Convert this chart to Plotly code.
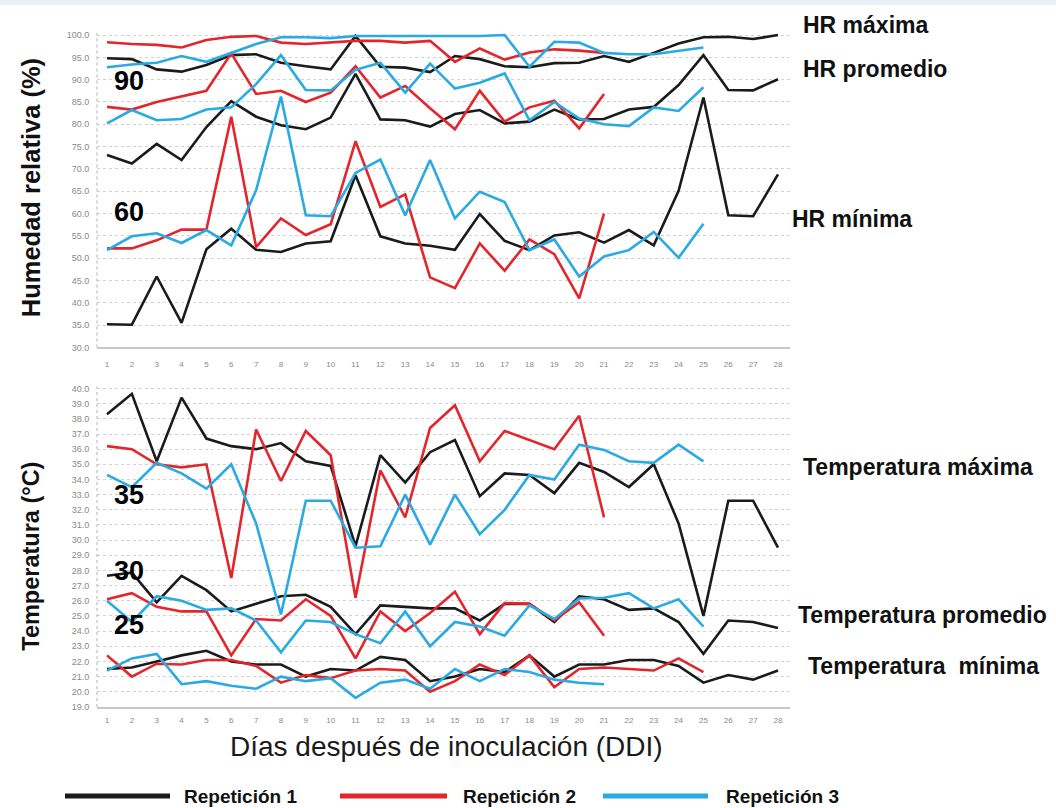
import plotly.graph_objects as go

days = list(range(1, 29))
day_labels = [str(d) for d in days]

# Humedad relativa (%)
hr_max_r1 = [94.8, 94.6, 92.3, 91.8, 93.3, 95.5, 95.7, 93.8, 93.0, 92.3, 99.8, 92.9, 92.7, 91.7,
             95.3, 94.6, 93.0, 92.8, 93.7, 93.8, 95.3, 94.0, 96.0, 98.1, 99.5, 99.6, 99.1, 100.0]
hr_max_r2 = [98.4, 98.0, 97.8, 97.2, 98.9, 99.6, 99.8, 98.3, 98.0, 98.4, 98.7, 98.7, 98.3, 98.7,
             94.0, 97.0, 94.5, 96.1, 96.8, 96.5, 96.0]
hr_max_r3 = [92.8, 93.4, 93.8, 95.3, 94.0, 96.0, 98.0, 99.5, 99.5, 99.3, 99.8, 99.8, 99.8, 99.8,
             99.8, 99.8, 100.0, 92.9, 98.5, 98.3, 96.0, 95.7, 95.7, 96.5, 97.2]

hr_mean_r1 = [73.1, 71.2, 75.6, 72.0, 79.4, 85.2, 81.7, 79.8, 78.9, 81.5, 91.3, 81.1, 80.9, 79.5,
              82.3, 83.2, 80.2, 80.6, 83.3, 81.1, 81.2, 83.3, 83.9, 88.8, 95.5, 87.7, 87.6, 90.1]
hr_mean_r2 = [83.9, 83.3, 85.0, 86.3, 87.5, 95.9, 86.8, 87.5, 85.0, 87.1, 93.0, 86.0, 88.6, 83.6,
              78.9, 87.5, 80.6, 83.8, 85.3, 79.1, 86.8]
hr_mean_r3 = [80.2, 83.2, 80.9, 81.2, 83.3, 83.8, 89.0, 95.5, 87.7, 87.6, 92.2, 93.8, 87.1, 93.6,
              88.0, 89.3, 91.4, 80.9, 85.0, 81.3, 80.0, 79.6, 83.8, 83.0, 88.3]

hr_min_r1 = [35.2, 35.1, 45.9, 35.5, 52.0, 56.6, 51.9, 51.4, 53.3, 53.8, 68.6, 54.9, 53.3, 52.8,
             51.9, 59.9, 53.9, 51.8, 55.1, 55.8, 53.5, 56.3, 52.9, 65.1, 86.0, 59.6, 59.4, 68.8]
hr_min_r2 = [52.2, 52.2, 54.0, 56.4, 56.4, 81.7, 52.5, 58.9, 55.2, 57.6, 76.2, 61.5, 64.3, 45.7,
             43.3, 53.3, 47.2, 54.2, 50.9, 41.0, 60.0]
hr_min_r3 = [51.8, 54.9, 55.6, 53.4, 56.3, 52.9, 65.2, 86.2, 59.6, 59.4, 69.1, 72.1, 59.6, 72.0,
             58.9, 64.9, 62.6, 51.8, 54.2, 45.9, 50.4, 51.8, 55.9, 50.1, 57.7]

# Temperatura (°C)
t_max_r1 = [38.3, 39.65, 35.2, 39.4, 36.7, 36.2, 36.0, 36.4, 35.2, 34.9, 29.6, 35.6, 33.8, 35.8,
            36.6, 32.9, 34.4, 34.3, 33.1, 35.1, 34.5, 33.5, 35.0, 31.1, 25.0, 32.6, 32.6, 29.5]
t_max_r2 = [36.2, 36.0, 35.0, 34.8, 35.0, 27.5, 37.3, 33.9, 37.2, 35.6, 26.2, 34.6, 31.5, 37.4,
            38.9, 35.2, 37.2, 36.6, 36.0, 38.2, 31.5]
t_max_r3 = [34.3, 33.5, 35.1, 34.4, 33.4, 35.0, 31.1, 25.1, 32.6, 32.6, 29.5, 29.6, 33.0, 29.7,
            33.0, 30.4, 32.0, 34.3, 34.0, 36.3, 35.95, 35.2, 35.1, 36.3, 35.2]

t_mean_r1 = [27.65, 27.85, 25.9, 27.65, 26.7, 25.3, 25.8, 26.3, 26.4, 25.6, 23.8, 25.7, 25.6, 25.5,
             25.5, 24.7, 25.8, 25.8, 24.6, 26.3, 26.1, 25.4, 25.5, 24.6, 22.5, 24.7, 24.6, 24.2]
t_mean_r2 = [26.1, 26.5, 25.6, 25.3, 25.3, 22.4, 24.8, 24.7, 26.1, 25.0, 22.2, 25.3, 24.0, 25.2,
             26.6, 23.8, 25.85, 25.8, 24.7, 25.9, 23.7]
t_mean_r3 = [26.0, 24.6, 26.3, 26.0, 25.4, 25.5, 24.7, 22.6, 24.7, 24.6, 23.8, 23.2, 25.3, 23.0,
             24.6, 24.3, 23.7, 25.7, 24.8, 26.15, 26.2, 26.5, 25.5, 26.1, 24.3]

t_min_r1 = [21.5, 21.6, 22.0, 22.4, 22.7, 22.0, 21.8, 21.8, 21.0, 21.5, 21.4, 22.3, 22.1, 20.7,
            21.0, 21.5, 21.3, 22.4, 21.0, 21.8, 21.8, 22.1, 22.1, 21.7, 20.6, 21.1, 20.8, 21.4]
t_min_r2 = [22.4, 21.0, 21.85, 21.8, 22.1, 22.1, 21.7, 20.6, 21.1, 20.9, 21.4, 21.5, 21.4, 20.0,
            20.7, 21.8, 21.1, 22.4, 20.3, 21.5, 21.6, 21.5, 21.4, 22.2, 21.3]
t_min_r3 = [21.4, 22.2, 22.5, 20.5, 20.7, 20.4, 20.2, 21.0, 20.7, 20.9, 19.6, 20.6, 20.8, 20.2,
            21.5, 20.7, 21.5, 21.3, 20.8, 20.6, 20.5]

rep_names = ["Repetición 1", "Repetición 2", "Repetición 3"]
rep_colors = ["#1b1b1b", "#e2262c", "#2aaae2"]

W, H = 1056, 808
VK = 1 / 0.9925  # vertical compensation
def py(p):
    return 1 - (p * VK) / H
def px(p):
    return p / W

fig = go.Figure()

top_series = [[hr_max_r1, hr_mean_r1, hr_min_r1],
              [hr_max_r2, hr_mean_r2, hr_min_r2],
              [hr_max_r3, hr_mean_r3, hr_min_r3]]
bot_series = [[t_max_r1, t_mean_r1, t_min_r1],
              [t_max_r2, t_mean_r2, t_min_r2],
              [t_max_r3, t_mean_r3, t_min_r3]]

for i in range(3):
    for s in top_series[i]:
        fig.add_trace(go.Scatter(x=days[:len(s)], y=s, mode="lines", name=rep_names[i],
                                 line=dict(color=rep_colors[i], width=2.6),
                                 xaxis="x", yaxis="y", showlegend=False))
    for s in bot_series[i]:
        fig.add_trace(go.Scatter(x=days[:len(s)], y=s, mode="lines", name=rep_names[i],
                                 line=dict(color=rep_colors[i], width=2.6),
                                 xaxis="x2", yaxis="y2", showlegend=False))

ppd = (778 - 107) / 27.0
xr = [1 - (107 - 97) / ppd, 28 + (790 - 778) / ppd]
xdom = [px(97), px(790)]

tickfont = dict(family="Liberation Sans, Arial, sans-serif", size=8, color="#8a8a8a")
ytickfont = dict(family="Liberation Sans, Arial, sans-serif", size=9, color="#8a8a8a")

common_x = dict(range=xr, domain=xdom, tickmode="array", tickvals=days, ticktext=day_labels,
                tickfont=tickfont, showgrid=False, zeroline=False, showline=True,
                linecolor="#c8c8c8", linewidth=1.5, ticks="outside",
                tickcolor="rgba(0,0,0,0)")

top_ppu = (347 - 35) / 70.0
bot_ppu = (706 - 388) / 21.0

fig.update_layout(
    width=W, height=H, autosize=False, margin=dict(l=0, r=0, t=0, b=0),
    paper_bgcolor="white", plot_bgcolor="white", showlegend=False,
    xaxis=dict(**common_x, anchor="y", ticklen=8),
    xaxis2=dict(**common_x, anchor="y2", ticklen=5),
    yaxis=dict(domain=[py(347), py(30)], range=[30, 100 + 5 / top_ppu], anchor="x",
               tickmode="array", tickvals=[30 + 5 * k for k in range(15)],
               ticktext=["%.1f" % (30 + 5 * k) for k in range(15)],
               tickfont=ytickfont, showgrid=True, gridcolor="#d2d2d2", griddash="dot",
               gridwidth=1, zeroline=False, showline=False, ticks="outside", ticklen=5,
               tickcolor="rgba(0,0,0,0)"),
    yaxis2=dict(domain=[py(706), py(383)], range=[19, 40 + 5 / bot_ppu], anchor="x2",
                tickmode="array", tickvals=list(range(19, 41)),
                ticktext=["%.1f" % v for v in range(19, 41)],
                tickfont=ytickfont, showgrid=True, gridcolor="#d2d2d2", griddash="dot",
                gridwidth=1, zeroline=False, showline=False, ticks="outside", ticklen=5,
                tickcolor="rgba(0,0,0,0)"),
)

shapes = []
# top light band
shapes.append(dict(type="rect", xref="paper", yref="paper", x0=0, x1=1, y0=py(5), y1=1,
                   fillcolor="#eaf0f7", line=dict(width=0), layer="below"))
# dotted left axis lines
shapes.append(dict(type="line", xref="paper", yref="paper", x0=px(97), x1=px(97),
                   y0=py(347), y1=py(33), line=dict(color="#c0c0c0", width=1.2, dash="dot")))
shapes.append(dict(type="line", xref="paper", yref="paper", x0=px(97), x1=px(97),
                   y0=py(706), y1=py(386), line=dict(color="#c0c0c0", width=1.2, dash="dot")))
# legend samples
LEG_Y = 795
leg_x = [(65, 170), (340, 447), (603, 708)]
for (a, b), c in zip(leg_x, rep_colors):
    shapes.append(dict(type="line", xref="paper", yref="paper", x0=px(a), x1=px(b),
                       y0=py(LEG_Y), y1=py(LEG_Y), line=dict(color=c, width=5)))
fig.update_layout(shapes=shapes)

bold = "Liberation Sans, Arial, sans-serif"
ann = []
def add_text(t, x, y, size, xanchor="left", bold_=True, color="#111111", angle=0, family=bold):
    ann.append(dict(text=("<b>%s</b>" % t) if bold_ else t, x=px(x), y=py(y), xref="paper",
                    yref="paper", showarrow=False, xanchor=xanchor, yanchor="middle",
                    textangle=angle, borderpad=0,
                    font=dict(family=family, size=size, color=color)))

add_text("Humedad relativa (%)", 31, 188, 25.5, xanchor="center", angle=-90)
add_text("Temperatura (°C)", 31, 556, 23.5, xanchor="center", angle=-90)
add_text("Días después de inoculación (DDI)", 446, 746, 28, xanchor="center", bold_=False,
         color="#1a1a1a")

add_text("HR máxima", 802, 25, 23)
add_text("HR promedio", 802, 69, 23)
add_text("HR mínima", 791, 219, 23)
add_text("Temperatura máxima", 802, 466, 23)
add_text("Temperatura promedio", 797, 614, 23)
add_text("Temperatura  mínima", 807, 665, 23)

for t, y in [("90", 81), ("60", 212), ("35", 494), ("30", 570), ("25", 624)]:
    add_text(t, 129, y, 27, xanchor="center", color="#000000")

for t, x in zip(rep_names, [183, 462, 725]):
    add_text(t, x, LEG_Y, 19)

fig.update_layout(annotations=ann)

fig.write_html("out.html",
               config={"displayModeBar": False, "responsive": False},
               post_script="document.body.style.margin='0';document.body.style.overflow='hidden';")
